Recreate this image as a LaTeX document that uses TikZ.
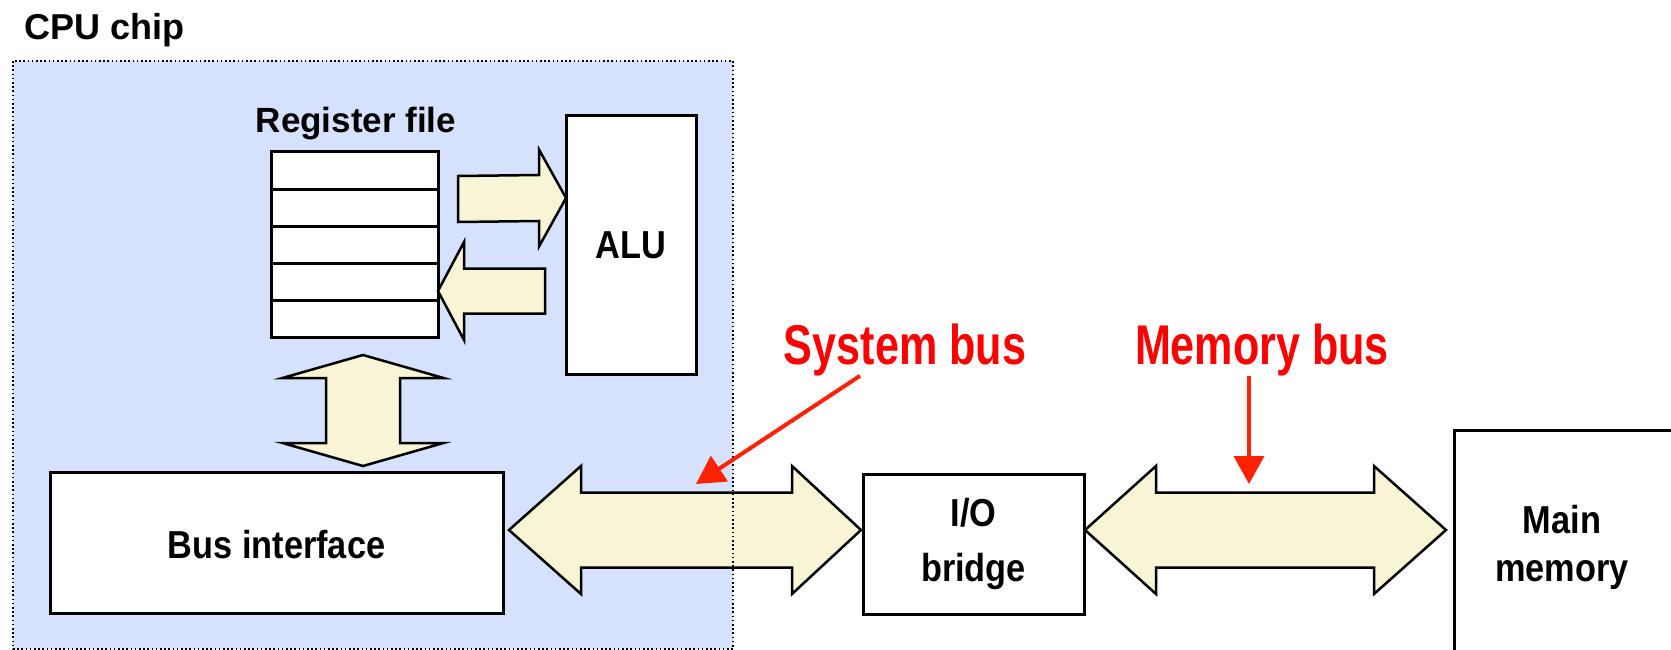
\documentclass[tikz,border=0pt]{standalone}
\usepackage{fontspec}
\setmainfont{Liberation Sans}
\newfontfamily\narrowsf{Liberation Sans}[FakeStretch=0.88]
\newfontfamily\tightsf{Liberation Sans}[FakeStretch=0.77]
\usepackage{tikz}
\usetikzlibrary{arrows.meta,calc,positioning}
\usepackage{xcolor}
\definecolor{chipblue}{RGB}{214,226,252}
\definecolor{busbeige}{RGB}{247,245,214}
\definecolor{calltext}{RGB}{255,0,0}
\definecolor{callred}{RGB}{255,34,0}
\tikzstyle{box} = [draw, line width=3pt, fill=white, inner sep=0pt]
\tikzstyle{fat} = [draw, line width=2.5pt, fill=busbeige, line join=miter]
\tikzstyle{callout} = [line width=4pt, color=callred, -{Triangle[length=28pt,width=30pt]}]
\tikzstyle{boxfont} = [font=\narrowsf\bfseries\fontsize{39}{48}\selectfont]
\tikzstyle{busfont} = [font=\tightsf\bfseries\fontsize{56}{60}\selectfont, text=calltext, inner sep=0pt]

\begin{document}
\begin{tikzpicture}[x=1pt,y=-1pt]
\useasboundingbox (0,0) rectangle (1671,650);

% CPU chip area
\fill[chipblue] (13,61) rectangle (733,649);
\node[font=\bfseries\fontsize{36}{40}\selectfont, anchor=base west, inner sep=0pt] (cpulbl) at (24,40) {CPU chip};

% Register file
\node[font=\bfseries\fontsize{35}{40}\selectfont, anchor=base, inner sep=0pt] (regtitle) at (356,133) {Register file};
\node[box, minimum width=167, minimum height=185] (reg) at (354.5,244.5) {};
\foreach \i in {1,...,4}
  \draw[line width=3pt] (271,152+37*\i) -- (438,152+37*\i);

% ALU
\node[box, boxfont, minimum width=130, minimum height=258] (alu) at (631,245) {ALU};

% Bus interface, bridge, memory
\node[box, boxfont, minimum width=453, minimum height=141, text height=33pt] (bus) at (276.5,542.5) {Bus interface};
\node[box, boxfont, font=\narrowsf\bfseries\fontsize{39}{55}\selectfont, align=center,
  minimum width=221, minimum height=140] (bridge) at (973.5,544) {I/O\\bridge};
\node[box, minimum width=300, minimum height=300, anchor=north west] (mem) at (1453,429) {};
\node[boxfont, align=center] (memtxt) at (1562,547) {Main\\memory};

% arrow end points
\coordinate (ra-t) at (458,199);
\coordinate (ra-h) at (566,198);
\coordinate (la-t) at (545,291);
\coordinate (la-h) at (438,291);
\coordinate (v-t) at (363,355);
\coordinate (v-b) at (363,466);
\coordinate (sb-l) at (509,530);
\coordinate (sb-r) at (861,530);
\coordinate (mb-l) at (1085,530);
\coordinate (mb-r) at (1446,530);

% register file -> ALU
\draw[fat] (ra-t) -- ++(0,-23) -- ($(ra-h)+(-27,-23)$) -- ++(0,-25.5) -- (ra-h)
  -- ++(-27,48.5) -- ++(0,-25.5) -- ($(ra-t)+(0,23)$) -- cycle;
% ALU -> register file
\draw[fat] (la-t) -- ++(0,-22.5) -- ($(la-h)+(26,-22.5)$) -- ++(0,-26.5) -- (la-h)
  -- ++(26,49) -- ++(0,-26.5) -- ($(la-t)+(0,22.5)$) -- cycle;
% register file <-> bus interface
\draw[fat] (v-t) -- ++(80.5,23) -- ++(-43.5,0) -- ($(v-b)+(37,-23)$) -- ++(43.5,0) -- (v-b)
  -- ++(-80.5,-23) -- ++(43.5,0) -- ($(v-t)+(-37,23)$) -- ++(-43.5,0) -- cycle;

% system bus
\draw[fat] (sb-l) -- ++(72,-64) -- ++(0,26.5) -- ($(sb-r)+(-69,-37.5)$) -- ++(0,-26.5) -- (sb-r)
  -- ++(-69,64) -- ++(0,-26.5) -- ($(sb-l)+(72,37.5)$) -- ++(0,26.5) -- cycle;
% memory bus
\draw[fat] (mb-l) -- ++(71,-64) -- ++(0,26.5) -- ($(mb-r)+(-72,-37.5)$) -- ++(0,-26.5) -- (mb-r)
  -- ++(-72,64) -- ++(0,-26.5) -- ($(mb-l)+(71,37.5)$) -- ++(0,26.5) -- cycle;

% chip border on top
\draw[line width=1.6pt, dash pattern=on 1.6pt off 2.6pt] (13,61) rectangle (733,649);

% bus labels
\node[busfont, anchor=base] (syslbl) at (905,364) {System bus};
\node[busfont, anchor=base] (memlbl) at (1262,364) {Memory bus};
\coordinate (sb-pt) at (696,484);
\coordinate (mb-pt) at (1249,484);
\draw[callout] ($(syslbl.south)+(-45,0)$) -- (sb-pt);
\draw[callout] ($(memlbl.south)+(-13,0)$) -- (mb-pt);
\end{tikzpicture}
\end{document}
